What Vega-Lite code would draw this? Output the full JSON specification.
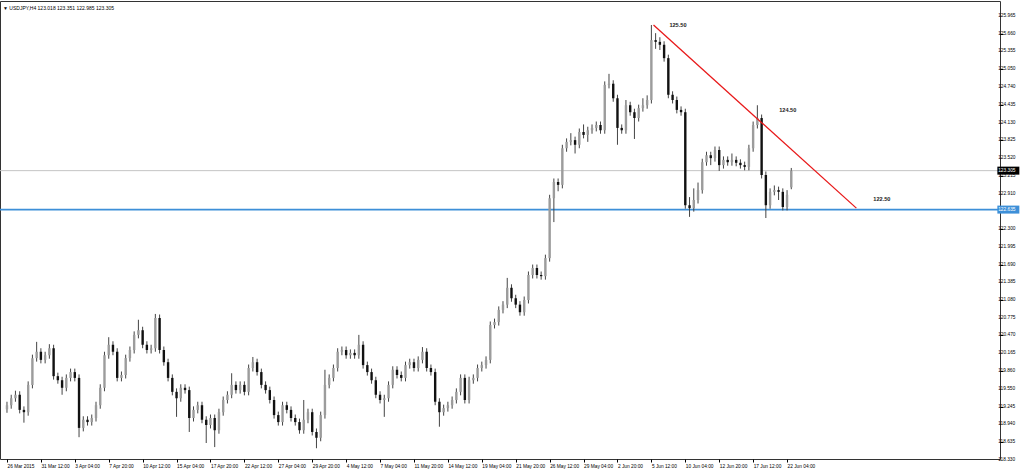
{
"$schema": "https://vega.github.io/schema/vega-lite/v6.json",
"width": 1000, "height": 458,
"autosize": "none",
"padding": {"left": 0, "top": 1, "right": 24, "bottom": 12},
"background": "white",
"config": {"view": {"stroke": "#333", "strokeWidth": 1}, "font": "Liberation Sans"},
"title": {"text": "▼ USDJPY,H4  123.018 123.351 122.985 123.305", "anchor": "start", "frame": "group", "offset": -12, "dx": 3, "fontSize": 5, "fontWeight": "normal", "color": "#000", "baseline": "middle"},
"datasets": {
"candles": [
{"i":0,"o":119.20,"h":119.33,"l":119.14,"c":119.27},
{"i":2,"o":119.27,"h":119.45,"l":119.21,"c":119.39},
{"i":4,"o":119.39,"h":119.52,"l":119.33,"c":119.45},
{"i":6,"o":119.45,"h":119.51,"l":119.13,"c":119.19},
{"i":8,"o":119.19,"h":119.25,"l":118.97,"c":119.15},
{"i":10,"o":119.15,"h":119.68,"l":119.09,"c":119.62},
{"i":12,"o":119.62,"h":120.14,"l":119.56,"c":120.08},
{"i":14,"o":120.08,"h":120.36,"l":120.02,"c":120.19},
{"i":16,"o":120.19,"h":120.25,"l":119.99,"c":120.05},
{"i":18,"o":120.05,"h":120.19,"l":119.99,"c":120.13},
{"i":20,"o":120.13,"h":120.32,"l":120.07,"c":120.25},
{"i":22,"o":120.25,"h":120.31,"l":119.71,"c":119.77},
{"i":24,"o":119.77,"h":119.83,"l":119.64,"c":119.70},
{"i":26,"o":119.70,"h":119.76,"l":119.45,"c":119.57},
{"i":28,"o":119.57,"h":119.80,"l":119.51,"c":119.74},
{"i":30,"o":119.74,"h":119.90,"l":119.68,"c":119.84},
{"i":32,"o":119.84,"h":119.90,"l":119.68,"c":119.74},
{"i":34,"o":119.74,"h":119.80,"l":118.72,"c":118.88},
{"i":36,"o":118.88,"h":119.08,"l":118.82,"c":119.02},
{"i":38,"o":119.02,"h":119.08,"l":118.92,"c":118.98},
{"i":40,"o":118.98,"h":119.11,"l":118.92,"c":119.05},
{"i":42,"o":119.05,"h":119.33,"l":118.99,"c":119.27},
{"i":44,"o":119.27,"h":119.63,"l":119.21,"c":119.57},
{"i":46,"o":119.57,"h":120.19,"l":119.51,"c":120.13},
{"i":48,"o":120.13,"h":120.44,"l":120.07,"c":120.31},
{"i":50,"o":120.31,"h":120.37,"l":120.13,"c":120.19},
{"i":52,"o":120.19,"h":120.25,"l":119.68,"c":119.74},
{"i":54,"o":119.74,"h":119.85,"l":119.68,"c":119.79},
{"i":56,"o":119.79,"h":120.14,"l":119.73,"c":120.08},
{"i":58,"o":120.08,"h":120.28,"l":120.02,"c":120.22},
{"i":60,"o":120.22,"h":120.54,"l":120.16,"c":120.48},
{"i":62,"o":120.48,"h":120.74,"l":120.42,"c":120.56},
{"i":64,"o":120.56,"h":120.62,"l":120.25,"c":120.31},
{"i":66,"o":120.31,"h":120.37,"l":120.16,"c":120.22},
{"i":68,"o":120.22,"h":120.31,"l":120.16,"c":120.25},
{"i":70,"o":120.25,"h":120.84,"l":120.19,"c":120.77},
{"i":72,"o":120.77,"h":120.83,"l":120.16,"c":120.22},
{"i":74,"o":120.22,"h":120.28,"l":119.95,"c":120.01},
{"i":76,"o":120.01,"h":120.07,"l":119.68,"c":119.74},
{"i":78,"o":119.74,"h":119.80,"l":119.44,"c":119.50},
{"i":80,"o":119.50,"h":119.56,"l":119.07,"c":119.39},
{"i":82,"o":119.39,"h":119.63,"l":119.33,"c":119.57},
{"i":84,"o":119.57,"h":119.63,"l":119.47,"c":119.53},
{"i":86,"o":119.53,"h":119.59,"l":118.81,"c":119.05},
{"i":88,"o":119.05,"h":119.25,"l":118.99,"c":119.19},
{"i":90,"o":119.19,"h":119.33,"l":119.13,"c":119.27},
{"i":92,"o":119.27,"h":119.33,"l":118.96,"c":119.02},
{"i":94,"o":119.02,"h":119.08,"l":118.62,"c":118.93},
{"i":96,"o":118.93,"h":119.11,"l":118.87,"c":119.05},
{"i":98,"o":119.05,"h":119.11,"l":118.55,"c":118.84},
{"i":100,"o":118.84,"h":119.21,"l":118.78,"c":119.15},
{"i":102,"o":119.15,"h":119.42,"l":119.09,"c":119.36},
{"i":104,"o":119.36,"h":119.51,"l":119.30,"c":119.45},
{"i":106,"o":119.45,"h":119.82,"l":119.39,"c":119.62},
{"i":108,"o":119.62,"h":119.68,"l":119.47,"c":119.53},
{"i":110,"o":119.53,"h":119.68,"l":119.47,"c":119.62},
{"i":112,"o":119.62,"h":119.68,"l":119.44,"c":119.50},
{"i":114,"o":119.50,"h":119.97,"l":119.44,"c":119.91},
{"i":116,"o":119.91,"h":120.10,"l":119.85,"c":120.01},
{"i":118,"o":120.01,"h":120.07,"l":119.78,"c":119.84},
{"i":120,"o":119.84,"h":119.90,"l":119.56,"c":119.62},
{"i":122,"o":119.62,"h":119.68,"l":119.47,"c":119.53},
{"i":124,"o":119.53,"h":119.59,"l":119.30,"c":119.36},
{"i":126,"o":119.36,"h":119.42,"l":119.04,"c":119.10},
{"i":128,"o":119.10,"h":119.16,"l":118.92,"c":118.98},
{"i":130,"o":118.98,"h":119.33,"l":118.92,"c":119.27},
{"i":132,"o":119.27,"h":119.33,"l":119.13,"c":119.19},
{"i":134,"o":119.19,"h":119.25,"l":118.99,"c":119.05},
{"i":136,"o":119.05,"h":119.11,"l":118.92,"c":118.98},
{"i":138,"o":118.98,"h":119.04,"l":118.78,"c":118.84},
{"i":140,"o":118.84,"h":119.36,"l":118.78,"c":119.02},
{"i":142,"o":119.02,"h":119.21,"l":118.96,"c":119.15},
{"i":144,"o":119.15,"h":119.21,"l":118.75,"c":118.81},
{"i":146,"o":118.81,"h":118.87,"l":118.53,"c":118.71},
{"i":148,"o":118.71,"h":119.16,"l":118.65,"c":119.10},
{"i":150,"o":119.10,"h":119.88,"l":119.04,"c":119.62},
{"i":152,"o":119.62,"h":119.80,"l":119.56,"c":119.74},
{"i":154,"o":119.74,"h":119.97,"l":119.68,"c":119.91},
{"i":156,"o":119.91,"h":120.25,"l":119.85,"c":120.19},
{"i":158,"o":120.19,"h":120.28,"l":120.13,"c":120.22},
{"i":160,"o":120.22,"h":120.28,"l":120.07,"c":120.13},
{"i":162,"o":120.13,"h":120.23,"l":120.07,"c":120.17},
{"i":164,"o":120.17,"h":120.23,"l":120.07,"c":120.13},
{"i":166,"o":120.13,"h":120.48,"l":120.07,"c":120.31},
{"i":168,"o":120.31,"h":120.37,"l":119.90,"c":119.96},
{"i":170,"o":119.96,"h":120.02,"l":119.78,"c":119.84},
{"i":172,"o":119.84,"h":119.90,"l":119.64,"c":119.70},
{"i":174,"o":119.70,"h":119.76,"l":119.39,"c":119.45},
{"i":176,"o":119.45,"h":119.51,"l":119.30,"c":119.36},
{"i":178,"o":119.36,"h":119.45,"l":119.07,"c":119.39},
{"i":180,"o":119.39,"h":119.68,"l":119.33,"c":119.62},
{"i":182,"o":119.62,"h":119.94,"l":119.56,"c":119.88},
{"i":184,"o":119.88,"h":119.94,"l":119.73,"c":119.79},
{"i":186,"o":119.79,"h":119.85,"l":119.68,"c":119.74},
{"i":188,"o":119.74,"h":120.02,"l":119.68,"c":119.96},
{"i":190,"o":119.96,"h":120.07,"l":119.90,"c":120.01},
{"i":192,"o":120.01,"h":120.07,"l":119.85,"c":119.91},
{"i":194,"o":119.91,"h":120.11,"l":119.85,"c":120.05},
{"i":196,"o":120.05,"h":120.27,"l":119.99,"c":120.19},
{"i":198,"o":120.19,"h":120.25,"l":119.85,"c":119.91},
{"i":200,"o":119.91,"h":119.97,"l":119.78,"c":119.84},
{"i":202,"o":119.84,"h":119.90,"l":119.27,"c":119.33},
{"i":204,"o":119.33,"h":119.39,"l":118.90,"c":119.15},
{"i":206,"o":119.15,"h":119.28,"l":119.09,"c":119.22},
{"i":208,"o":119.22,"h":119.33,"l":119.16,"c":119.27},
{"i":210,"o":119.27,"h":119.42,"l":119.21,"c":119.36},
{"i":212,"o":119.36,"h":119.56,"l":119.30,"c":119.50},
{"i":214,"o":119.50,"h":119.80,"l":119.44,"c":119.74},
{"i":216,"o":119.74,"h":119.80,"l":119.30,"c":119.36},
{"i":218,"o":119.36,"h":119.76,"l":119.30,"c":119.70},
{"i":220,"o":119.70,"h":119.80,"l":119.64,"c":119.74},
{"i":222,"o":119.74,"h":119.97,"l":119.68,"c":119.91},
{"i":224,"o":119.91,"h":120.02,"l":119.85,"c":119.96},
{"i":226,"o":119.96,"h":120.11,"l":119.90,"c":120.05},
{"i":228,"o":120.05,"h":120.71,"l":119.99,"c":120.65},
{"i":230,"o":120.65,"h":120.76,"l":120.59,"c":120.70},
{"i":232,"o":120.70,"h":120.97,"l":120.64,"c":120.91},
{"i":234,"o":120.91,"h":121.06,"l":120.85,"c":121.00},
{"i":236,"o":121.00,"h":121.46,"l":120.94,"c":121.29},
{"i":238,"o":121.29,"h":121.35,"l":121.05,"c":121.11},
{"i":240,"o":121.11,"h":121.17,"l":120.94,"c":121.00},
{"i":242,"o":121.00,"h":121.06,"l":120.81,"c":120.87},
{"i":244,"o":120.87,"h":121.14,"l":120.81,"c":121.08},
{"i":246,"o":121.08,"h":121.57,"l":121.02,"c":121.51},
{"i":248,"o":121.51,"h":121.69,"l":121.45,"c":121.63},
{"i":250,"o":121.63,"h":121.69,"l":121.45,"c":121.51},
{"i":252,"o":121.51,"h":121.57,"l":121.43,"c":121.49},
{"i":254,"o":121.49,"h":121.86,"l":121.43,"c":121.80},
{"i":256,"o":121.80,"h":122.89,"l":121.74,"c":122.83},
{"i":258,"o":122.83,"h":123.17,"l":122.42,"c":123.11},
{"i":260,"o":123.11,"h":123.17,"l":122.95,"c":123.06},
{"i":262,"o":123.06,"h":123.75,"l":123.00,"c":123.69},
{"i":264,"o":123.69,"h":123.86,"l":123.63,"c":123.80},
{"i":266,"o":123.80,"h":123.95,"l":123.74,"c":123.83},
{"i":268,"o":123.83,"h":123.89,"l":123.60,"c":123.75},
{"i":270,"o":123.75,"h":124.03,"l":123.69,"c":123.97},
{"i":272,"o":123.97,"h":124.10,"l":123.86,"c":123.92},
{"i":274,"o":123.92,"h":124.06,"l":123.80,"c":124.00},
{"i":276,"o":124.00,"h":124.10,"l":123.94,"c":124.04},
{"i":278,"o":124.04,"h":124.15,"l":123.98,"c":124.09},
{"i":280,"o":124.09,"h":124.15,"l":123.94,"c":124.00},
{"i":282,"o":124.00,"h":124.84,"l":123.94,"c":124.78},
{"i":284,"o":124.78,"h":124.97,"l":124.72,"c":124.80},
{"i":286,"o":124.80,"h":124.86,"l":124.49,"c":124.55},
{"i":288,"o":124.55,"h":124.61,"l":123.75,"c":124.04},
{"i":290,"o":124.04,"h":124.10,"l":123.94,"c":124.00},
{"i":292,"o":124.00,"h":124.52,"l":123.94,"c":124.43},
{"i":294,"o":124.43,"h":124.49,"l":124.25,"c":124.31},
{"i":296,"o":124.31,"h":124.37,"l":123.85,"c":124.21},
{"i":298,"o":124.21,"h":124.44,"l":124.15,"c":124.38},
{"i":300,"o":124.38,"h":124.55,"l":124.32,"c":124.43},
{"i":302,"o":124.43,"h":124.60,"l":124.37,"c":124.52},
{"i":304,"o":124.52,"h":125.81,"l":124.46,"c":125.55},
{"i":306,"o":125.55,"h":125.67,"l":125.40,"c":125.52},
{"i":308,"o":125.52,"h":125.60,"l":125.38,"c":125.47},
{"i":310,"o":125.47,"h":125.53,"l":125.18,"c":125.24},
{"i":312,"o":125.24,"h":125.30,"l":124.55,"c":124.61},
{"i":314,"o":124.61,"h":124.67,"l":124.46,"c":124.52},
{"i":316,"o":124.52,"h":124.58,"l":124.29,"c":124.35},
{"i":318,"o":124.35,"h":124.41,"l":124.25,"c":124.31},
{"i":320,"o":124.31,"h":124.37,"l":122.65,"c":122.71},
{"i":322,"o":122.71,"h":122.85,"l":122.51,"c":122.66},
{"i":324,"o":122.66,"h":123.00,"l":122.60,"c":122.80},
{"i":326,"o":122.80,"h":123.10,"l":122.74,"c":122.97},
{"i":328,"o":122.97,"h":123.51,"l":122.91,"c":123.45},
{"i":330,"o":123.45,"h":123.63,"l":123.39,"c":123.57},
{"i":332,"o":123.57,"h":123.63,"l":123.40,"c":123.52},
{"i":334,"o":123.52,"h":123.72,"l":123.46,"c":123.66},
{"i":336,"o":123.66,"h":123.72,"l":123.30,"c":123.40},
{"i":338,"o":123.40,"h":123.55,"l":123.34,"c":123.49},
{"i":340,"o":123.49,"h":123.55,"l":123.39,"c":123.45},
{"i":342,"o":123.45,"h":123.60,"l":123.39,"c":123.49},
{"i":344,"o":123.49,"h":123.55,"l":123.38,"c":123.44},
{"i":346,"o":123.44,"h":123.50,"l":123.34,"c":123.40},
{"i":348,"o":123.40,"h":123.46,"l":123.31,"c":123.37},
{"i":350,"o":123.37,"h":123.75,"l":123.31,"c":123.69},
{"i":352,"o":123.69,"h":124.15,"l":123.63,"c":124.09},
{"i":354,"o":124.09,"h":124.43,"l":124.03,"c":124.21},
{"i":356,"o":124.21,"h":124.27,"l":123.17,"c":123.23},
{"i":358,"o":123.23,"h":123.29,"l":122.49,"c":122.71},
{"i":360,"o":122.71,"h":123.00,"l":122.65,"c":122.94},
{"i":362,"o":122.94,"h":123.05,"l":122.88,"c":122.97},
{"i":364,"o":122.97,"h":123.03,"l":122.80,"c":122.94},
{"i":366,"o":122.94,"h":123.00,"l":122.62,"c":122.68},
{"i":368,"o":122.68,"h":122.97,"l":122.62,"c":122.89},
{"i":370,"o":123.018,"h":123.351,"l":122.985,"c":123.305}
],
"trend": [{"i":305,"p":125.81},{"i":400.7,"p":122.66}],
"notes": [{"i":312.5,"p":125.81,"t":"125.50"},{"i":364.3,"p":124.35,"t":"124.50"},{"i":408.7,"p":122.82,"t":"122.50"}],
"levels": [{"p":123.305,"kind":"current"},{"p":122.635,"kind":"support"}],
"yticks": [{"v":125.965},{"v":125.660},{"v":125.355},{"v":125.050},{"v":124.740},{"v":124.435},{"v":124.130},{"v":123.825},{"v":123.520},{"v":123.215},{"v":122.910},{"v":122.300},{"v":121.995},{"v":121.690},{"v":121.385},{"v":121.080},{"v":120.775},{"v":120.470},{"v":120.165},{"v":119.860},{"v":119.550},{"v":119.245},{"v":118.940},{"v":118.635},{"v":118.330}]
},
"layer": [
{"data": {"name": "levels"}, "transform": [{"filter": "datum.kind == 'current'"}],
 "mark": {"type": "rule", "color": "#c4c4c4", "strokeWidth": 1},
 "encoding": {"y": {"field": "p", "type": "quantitative",
   "scale": {"domain": [118.345, 126.223], "nice": false, "zero": false},
   "axis": {"orient": "right", "title": null, "grid": false, "domain": false, "labels": false,
     "values": [125.965,125.660,125.355,125.050,124.740,124.435,124.130,123.825,123.520,123.215,122.910,122.300,121.995,121.690,121.385,121.080,120.775,120.470,120.165,119.860,119.550,119.245,118.940,118.635],
     "tickSize": 3, "tickColor": "#000"}}}},
{"data": {"name": "levels"}, "transform": [{"filter": "datum.kind == 'support'"}],
 "mark": {"type": "rule", "color": "#3d8fd8", "strokeWidth": 1.6},
 "encoding": {"y": {"field": "p", "type": "quantitative"}}},
{"data": {"name": "yticks"},
 "mark": {"type": "text", "align": "left", "baseline": "middle", "fontSize": 4.8, "color": "#000"},
 "encoding": {"x": {"datum": 467.6, "type": "quantitative"}, "y": {"field": "v", "type": "quantitative"}, "text": {"field": "v", "type": "quantitative", "format": ".3f"}}},
{"data": {"name": "levels"},
 "mark": {"type": "tick", "orient": "horizontal", "size": 22, "thickness": 8, "opacity": 1},
 "encoding": {"x": {"datum": 472.4, "type": "quantitative",
   "scale": {"domain": [-0.93, 466.1], "nice": false, "zero": false},
   "axis": {"title": null, "grid": false, "domain": false,
     "values": [0,16,32,48,64,80,96,112,128,144,160,176,192,208,224,240,256,272,288,304,320,336,352,368],
     "labelExpr": "['26 Mar 2015','31 Mar 12:00','3 Apr 04:00','7 Apr 20:00','10 Apr 12:00','15 Apr 04:00','17 Apr 20:00','22 Apr 12:00','27 Apr 04:00','29 Apr 20:00','4 May 12:00','7 May 04:00','11 May 20:00','14 May 12:00','19 May 04:00','21 May 20:00','26 May 12:00','29 May 04:00','2 Jun 20:00','5 Jun 12:00','10 Jun 04:00','12 Jun 20:00','17 Jun 12:00','22 Jun 04:00'][round(datum.value/16)]",
     "tickSize": 3, "tickColor": "#000", "labelAlign": "left", "labelBaseline": "top", "labelPadding": 1, "labelDx": 1, "labelFontSize": 4.8, "labelColor": "#000", "labelOverlap": false, "labelFlush": false}},
   "y": {"field": "p", "type": "quantitative"},
   "color": {"field": "kind", "type": "nominal", "scale": {"domain": ["current","support"], "range": ["#000000","#3d8fd8"]}, "legend": null}}},
{"data": {"name": "levels"},
 "mark": {"type": "text", "align": "left", "baseline": "middle", "fontSize": 4.8, "color": "#ffffff"},
 "encoding": {"x": {"datum": 467.6, "type": "quantitative"}, "y": {"field": "p", "type": "quantitative"}, "text": {"field": "p", "type": "quantitative", "format": ".3f"}}},
{"data": {"name": "candles"},
 "mark": {"type": "rule", "color": "#444", "strokeWidth": 1},
 "encoding": {"x": {"field": "i", "type": "quantitative"}, "y": {"field": "l", "type": "quantitative"}, "y2": {"field": "h"}}},
{"data": {"name": "candles"},
 "mark": {"type": "bar", "size": 2.4},
 "encoding": {"x": {"field": "i", "type": "quantitative"}, "y": {"field": "o", "type": "quantitative"}, "y2": {"field": "c"},
   "color": {"condition": {"test": "datum.c >= datum.o", "value": "#9c9c9c"}, "value": "#111111"}}},
{"data": {"name": "trend"},
 "mark": {"type": "line", "color": "#e8191a", "strokeWidth": 1.3},
 "encoding": {"x": {"field": "i", "type": "quantitative"}, "y": {"field": "p", "type": "quantitative"}}},
{"data": {"name": "notes"},
 "mark": {"type": "text", "align": "left", "baseline": "middle", "fontSize": 5.6, "fontWeight": "bold", "color": "#222"},
 "encoding": {"x": {"field": "i", "type": "quantitative"}, "y": {"field": "p", "type": "quantitative"}, "text": {"field": "t"}}}
]
}
